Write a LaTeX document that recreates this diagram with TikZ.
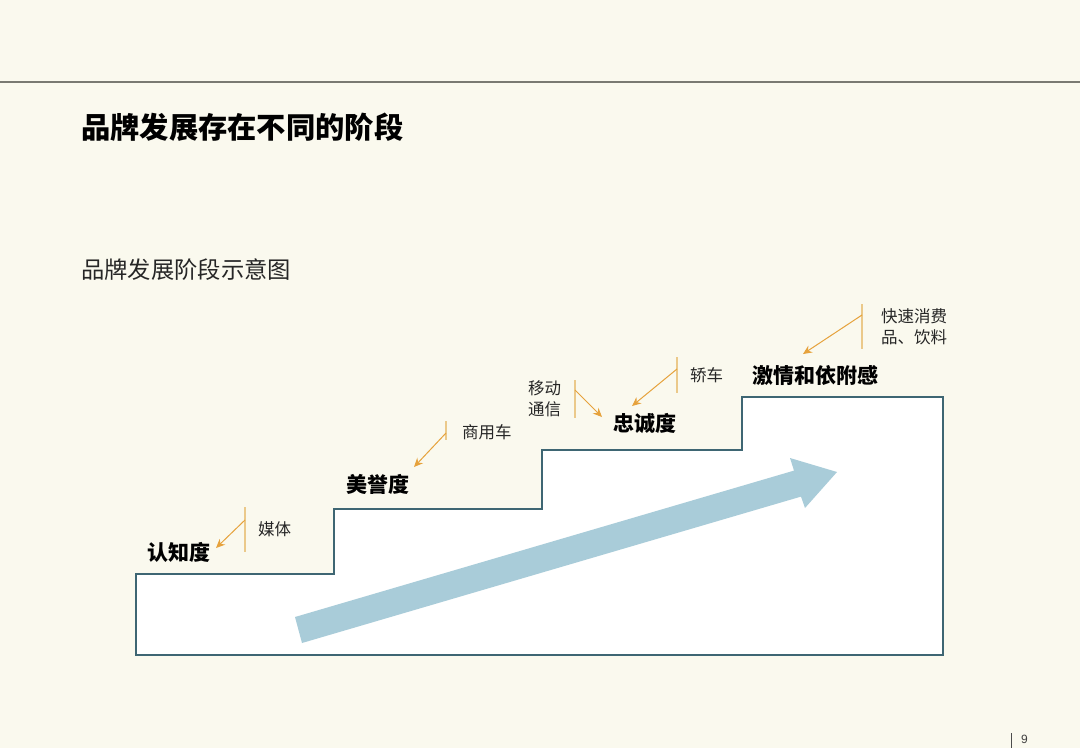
\documentclass[tikz,border=0pt]{standalone}
\usepackage{fontspec}
\setmainfont{Liberation Sans}
\newfontfamily\cjk{Noto Sans CJK SC}
\definecolor{bgcream}{HTML}{FAF9EE}
\definecolor{stairline}{HTML}{3E6673}
\definecolor{flowblue}{HTML}{A9CCD9}
\definecolor{callorange}{HTML}{E6A23C}
\definecolor{calltick}{HTML}{EBC98A}
\definecolor{ruleGray}{HTML}{7A7A72}
\tikzset{
  stage/.style={anchor=west,inner sep=0pt,font=\cjk\bfseries\fontsize{21}{22}\selectfont,text=black},
  note/.style={anchor=west,inner sep=0pt,font=\cjk\fontsize{16.5}{21}\selectfont,text=black!85,align=left},
  tick/.style={draw=calltick,line width=1.2pt},
  callarrow/.style={draw=callorange,line width=1pt,-{Stealth[length=9pt,width=8pt]}},
}
\usetikzlibrary{arrows.meta}
\begin{document}
\begin{tikzpicture}[x=1pt,y=-1pt]
\fill[bgcream] (0,0) rectangle (1080,748);
\useasboundingbox (0,0) rectangle (1080,748);
% top rule
\coordinate (ruleL) at (0,82);
\coordinate (ruleR) at (1080,82);
\draw[ruleGray,line width=1.2pt] (ruleL) -- (ruleR);
% titles
\node[anchor=west,inner sep=0pt,font=\cjk\bfseries\fontsize{29.3}{30}\selectfont] (title) at (81,127) {品牌发展存在不同的阶段};
\node[anchor=west,inner sep=0pt,font=\cjk\fontsize{23.3}{26}\selectfont,text=black!85] (subtitle) at (81,270) {品牌发展阶段示意图};
% stairs
\filldraw[fill=white,draw=stairline,line width=2.6pt,line join=miter]
  (136,574) -- (136,655) -- (943,655) -- (943,397) -- (742,397) -- (742,450)
  -- (542,450) -- (542,509) -- (334,509) -- (334,574) -- cycle;
% big blue arrow
\fill[flowblue] (295,617) -- (794,470.6) -- (790,458) -- (837,472) -- (805,508)
  -- (801,496.6) -- (302,643) -- cycle;
% stage labels
\node[stage] (s1) at (147,552) {认知度};
\node[stage] (s2) at (346,484) {美誉度};
\node[stage] (s3) at (613,424) {忠诚度};
\node[stage] (s4) at (752,375) {激情和依附感};
% notes
\node[note] (n1) at (258,529) {媒体};
\node[note] (n2) at (462,432) {商用车};
\node[note] (n3) at (528,398.5) {移动\\[0pt]通信};
\node[note] (n4) at (690,375) {轿车};
\node[note] (n5) at (881,326.5) {快速消费\\[0pt]品、饮料};
% callouts
\coordinate (t1a) at (245,507); \coordinate (t1b) at (245,552); \coordinate (a1s) at (245,520); \coordinate (a1e) at (216,548);
\draw[tick] (t1a) -- (t1b); \draw[callarrow] (a1s) -- (a1e);
\coordinate (t2a) at (446,421); \coordinate (t2b) at (446,440); \coordinate (a2s) at (446,433); \coordinate (a2e) at (414,467);
\draw[tick] (t2a) -- (t2b); \draw[callarrow] (a2s) -- (a2e);
\coordinate (t3a) at (575,380); \coordinate (t3b) at (575,418); \coordinate (a3s) at (575,390); \coordinate (a3e) at (602,417);
\draw[tick] (t3a) -- (t3b); \draw[callarrow] (a3s) -- (a3e);
\coordinate (t4a) at (677,357); \coordinate (t4b) at (677,393); \coordinate (a4s) at (677,369); \coordinate (a4e) at (632,406);
\draw[tick] (t4a) -- (t4b); \draw[callarrow] (a4s) -- (a4e);
\coordinate (t5a) at (862,304); \coordinate (t5b) at (862,349); \coordinate (a5s) at (862,315); \coordinate (a5e) at (803,354);
\draw[tick] (t5a) -- (t5b); \draw[callarrow] (a5s) -- (a5e);
% page number
\coordinate (pgA) at (1011,733); \coordinate (pgB) at (1011,748);
\draw[black!70,line width=0.8pt] (pgA) -- (pgB);
\node[anchor=west,inner sep=0pt,font=\fontsize{12}{13}\selectfont,text=black!75] (pg) at (1021,739) {9};
\end{tikzpicture}
\end{document}
